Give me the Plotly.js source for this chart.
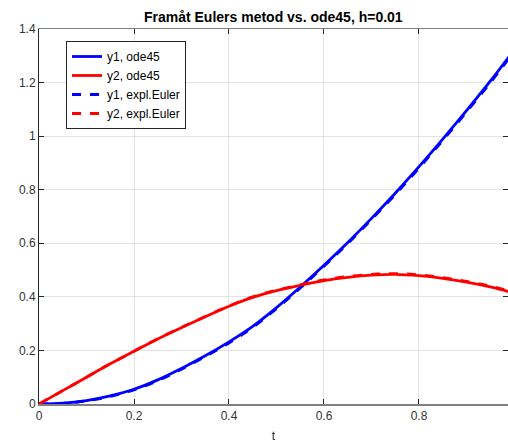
<!DOCTYPE html>
<html>
<head>
<meta charset="utf-8">
<script src="https://cdn.plot.ly/plotly-3.0.1.min.js"></script>
<style>html,body{margin:0;padding:0;background:#fff;}#chart{width:508px;height:443px;}</style>
</head>
<body>
<div id="chart"></div>
<script>
var t = [0, 0.05, 0.1, 0.15, 0.2, 0.25, 0.3, 0.35, 0.4, 0.45, 0.5, 0.55, 0.6, 0.65, 0.7, 0.75, 0.8, 0.85, 0.9, 0.95, 0.99];
var y1_ode45 = [0, 0.003, 0.013, 0.03, 0.055, 0.09, 0.133, 0.18, 0.232, 0.29, 0.36, 0.437, 0.518, 0.603, 0.693, 0.787, 0.886, 0.989, 1.095, 1.205, 1.298];
var y2_ode45 = [0, 0.05, 0.10, 0.15, 0.197, 0.243, 0.285, 0.326, 0.365, 0.398, 0.423, 0.443, 0.461, 0.473, 0.481, 0.484, 0.479, 0.469, 0.455, 0.437, 0.419];
var y1_euler = [0, 0.002, 0.012, 0.028, 0.053, 0.087, 0.130, 0.177, 0.228, 0.286, 0.356, 0.433, 0.514, 0.599, 0.689, 0.782, 0.881, 0.984, 1.090, 1.199, 1.292];
var y2_euler = [0, 0.05, 0.10, 0.15, 0.197, 0.244, 0.286, 0.327, 0.366, 0.400, 0.425, 0.445, 0.463, 0.476, 0.484, 0.487, 0.482, 0.472, 0.458, 0.440, 0.422];
var names = ["y1, ode45", "y2, ode45", "y1, expl.Euler", "y2, expl.Euler"];

var blue = "#0000ff", red = "#ff0000";
var traces = [
  {x: t, y: y1_ode45, name: names[0], mode: "lines", line: {color: blue, width: 2.8, shape: "spline"}},
  {x: t, y: y2_ode45, name: names[1], mode: "lines", line: {color: red, width: 2.8, shape: "spline"}},
  {x: t, y: y1_euler, name: names[2], mode: "lines", line: {color: blue, width: 2.8, dash: "dash", shape: "spline"}},
  {x: t, y: y2_euler, name: names[3], mode: "lines", line: {color: red, width: 2.8, dash: "dash", shape: "spline"}}
];

var axisCommon = {
  showgrid: true, gridcolor: "#e3e3e3", gridwidth: 1,
  zeroline: false, showline: true, mirror: "ticks",
  ticks: "inside", ticklen: 5, tickcolor: "#262626", tickwidth: 1,
  tickfont: {family: "Liberation Sans, Arial, sans-serif", size: 12, color: "#333333"}
};

var layout = {
  width: 508, height: 443,
  margin: {l: 39, r: 0, t: 29, b: 39},
  paper_bgcolor: "#ffffff", plot_bgcolor: "#ffffff",
  font: {family: "Liberation Sans, Arial, sans-serif", size: 12, color: "#262626"},
  title: {text: "<b>Framåt Eulers metod vs. ode45, h=0.01</b>", font: {size: 14, color: "#000000"},
          x: 0.538, xref: "container", y: 0.962, yref: "container", xanchor: "center", yanchor: "middle"},
  xaxis: Object.assign({}, axisCommon, {
    range: [0, 0.9874], dtick: 0.2, tick0: 0, linecolor: "#808080", linewidth: 1.5,
    title: {text: "t", font: {size: 12, color: "#262626"}, standoff: 10}
  }),
  yaxis: Object.assign({}, axisCommon, {
    range: [0, 1.4], dtick: 0.2, tick0: 0, linecolor: "#262626", linewidth: 1
  }),
  showlegend: true,
  legend: {x: 0.0576, y: 0.968, xanchor: "left", yanchor: "top",
           bgcolor: "#ffffff", bordercolor: "#262626", borderwidth: 1,
           font: {size: 12, color: "#000000"}, tracegroupgap: 0, itemwidth: 30}
};

Plotly.newPlot("chart", traces, layout, {displayModeBar: false, staticPlot: true});
</script>
</body>
</html>
